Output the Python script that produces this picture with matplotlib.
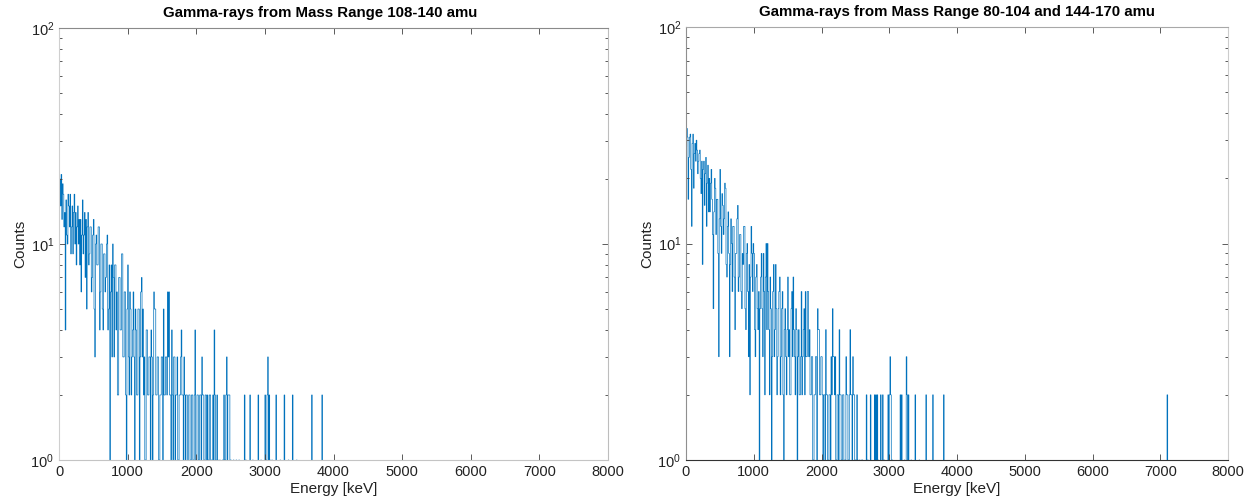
import numpy as np
import matplotlib
matplotlib.use("Agg")
import matplotlib.pyplot as plt
from matplotlib.ticker import LogLocator, NullFormatter, FixedLocator

plt.rcParams['font.family'] = ['Liberation Sans', 'DejaVu Sans']

# ---- data (10 keV bins, 0-8000 keV) ----
bin_width = 10
n_bins = 800

titles = ["Gamma-rays from Mass Range 108-140 amu",
          "Gamma-rays from Mass Range 80-104 and 144-170 amu"]
xlabel = "Energy [keV]"
ylabel = "Counts"
xticks = [0, 1000, 2000, 3000, 4000, 5000, 6000, 7000, 8000]

# counts for bins 0..399 (0-4000 keV), left panel (20 values per 200 keV row)
left_counts_low = [
    18, 20, 15, 21, 13, 19, 17, 12, 14, 4, 16, 11, 10, 17, 15, 12, 17, 9, 12, 15,
    9, 14, 17, 10, 14, 8, 12, 15, 10, 13, 8, 13, 6, 11, 16, 9, 11, 14, 7, 13,
    5, 12, 14, 8, 9, 12, 12, 6, 7, 11, 13, 5, 3, 10, 11, 8, 8, 12, 12, 4,
    6, 10, 10, 5, 4, 9, 9, 6, 7, 10, 11, 4, 5, 8, 1, 6, 8, 3, 10, 7,
    3, 8, 8, 4, 6, 2, 2, 7, 7, 4, 4, 9, 9, 3, 3, 6, 6, 2, 1, 5,
    8, 3, 2, 6, 5, 2, 3, 4, 6, 3, 1, 5, 4, 2, 2, 5, 5, 1, 3, 6,
    7, 3, 5, 2, 3, 1, 1, 4, 4, 2, 2, 3, 3, 1, 4, 3, 1, 2, 6, 5,
    5, 2, 2, 3, 3, 1, 1, 2, 2, 3, 3, 1, 5, 2, 2, 3, 3, 2, 6, 3,
    6, 2, 2, 1, 4, 2, 1, 3, 3, 1, 2, 2, 3, 1, 1, 2, 2, 3, 4, 2,
    2, 1, 3, 2, 1, 2, 2, 0, 0, 2, 2, 1, 1, 2, 2, 1, 1, 2, 4, 1,
    1, 2, 2, 1, 0, 2, 2, 1, 3, 2, 2, 1, 1, 2, 2, 1, 2, 1, 1, 2,
    2, 1, 1, 0, 2, 1, 4, 2, 1, 0, 2, 1, 0, 0, 1, 0, 0, 0, 1, 0,
    2, 1, 1, 2, 3, 1, 2, 2, 2, 1, 1, 0, 0, 0, 1, 0, 0, 0, 1, 0,
    0, 0, 1, 0, 0, 0, 0, 0, 0, 0, 2, 0, 1, 0, 0, 0, 0, 0, 2, 0,
    0, 0, 1, 0, 0, 0, 0, 0, 0, 0, 2, 0, 0, 0, 1, 0, 0, 0, 0, 0,
    2, 0, 1, 2, 3, 0, 2, 1, 0, 0, 1, 0, 0, 0, 0, 0, 2, 0, 0, 0,
    0, 0, 1, 0, 0, 0, 0, 0, 2, 0, 0, 0, 0, 0, 1, 0, 0, 0, 0, 0,
    2, 0, 0, 0, 0, 0, 1, 0, 0, 0, 0, 0, 0, 0, 0, 0, 0, 0, 0, 0,
    0, 0, 0, 0, 0, 0, 0, 0, 2, 0, 0, 0, 0, 0, 0, 0, 0, 0, 0, 0,
    0, 0, 0, 2, 0, 0, 0, 0, 0, 0, 0, 0, 0, 0, 0, 0, 0, 0, 0, 0,
]

# counts for bins 0..399 (0-4000 keV), right panel
right_counts_low = [
    28, 34, 31, 16, 25, 31, 32, 22, 12, 29, 32, 18, 26, 29, 24, 30, 27, 21, 24, 26,
    27, 20, 17, 24, 8, 22, 24, 15, 21, 25, 12, 19, 23, 14, 20, 14, 19, 22, 16, 11,
    5, 14, 20, 18, 11, 16, 16, 9, 3, 13, 22, 12, 9, 17, 15, 11, 13, 19, 18, 8,
    7, 12, 14, 9, 3, 8, 13, 10, 6, 12, 12, 7, 4, 9, 9, 13, 15, 6, 7, 11,
    11, 6, 5, 9, 8, 12, 12, 5, 4, 9, 10, 6, 3, 8, 2, 7, 12, 9, 6, 10,
    9, 4, 3, 7, 8, 5, 4, 6, 1, 5, 7, 9, 5, 3, 9, 6, 2, 7, 10, 4,
    10, 6, 4, 2, 7, 5, 1, 3, 6, 8, 3, 4, 8, 5, 2, 3, 5, 6, 7, 2,
    3, 5, 6, 2, 1, 4, 5, 3, 2, 4, 7, 3, 4, 2, 2, 5, 6, 3, 7, 4,
    3, 2, 5, 4, 1, 3, 4, 2, 2, 3, 6, 2, 3, 4, 5, 2, 6, 3, 3, 6,
    6, 3, 4, 2, 2, 3, 3, 1, 1, 2, 2, 3, 3, 1, 5, 4, 4, 2, 2, 3,
    3, 2, 1, 2, 2, 1, 4, 2, 2, 1, 0, 2, 2, 1, 3, 2, 5, 3, 3, 2,
    3, 1, 1, 2, 2, 1, 4, 2, 2, 1, 1, 2, 2, 1, 0, 1, 3, 2, 2, 1,
    1, 2, 4, 2, 2, 1, 3, 2, 2, 1, 1, 0, 2, 1, 0, 0, 1, 0, 0, 1,
    1, 0, 0, 0, 0, 0, 2, 0, 1, 0, 0, 0, 2, 0, 0, 0, 0, 0, 2, 0,
    2, 0, 2, 1, 0, 0, 0, 2, 0, 0, 2, 0, 1, 0, 0, 0, 0, 0, 2, 0,
    2, 3, 2, 0, 1, 0, 0, 0, 0, 0, 0, 0, 0, 0, 0, 0, 2, 0, 2, 0,
    0, 0, 1, 0, 0, 3, 2, 0, 2, 0, 0, 0, 1, 0, 0, 0, 0, 0, 2, 0,
    0, 0, 0, 0, 1, 0, 0, 0, 0, 0, 0, 0, 0, 0, 2, 0, 0, 0, 0, 0,
    0, 0, 0, 0, 2, 0, 0, 0, 0, 0, 0, 0, 0, 0, 0, 0, 0, 0, 0, 0,
    2, 0, 0, 0, 0, 0, 0, 0, 0, 0, 0, 0, 0, 0, 0, 0, 0, 0, 0, 0,
]

# isolated high-energy counts: (energy keV, count)
left_high_peaks = []
right_high_peaks = [(7100, 2)]


def full_counts(low, peaks):
    c = np.zeros(n_bins)
    c[:len(low)] = low
    for e, v in peaks:
        c[int(e // bin_width)] = v
    return c


edges = np.arange(n_bins + 1) * bin_width
series = [full_counts(left_counts_low, left_high_peaks),
          full_counts(right_counts_low, right_high_peaks)]

# ---- figure ----
W, H = 1250, 503
fig = plt.figure(figsize=(W / 100, H / 100), dpi=100)
boxes = [(59, 28, 608, 460), (686, 27, 1228, 460)]
title_x = [0.476, 0.5]
spine_colors = [
    {'top': '#8a8a8a', 'bottom': '#c4c4c4', 'left': '#cfcfcf', 'right': '#bdbdbd'},
    {'top': '#a8a8a8', 'bottom': '#333333', 'left': '#8f8f8f', 'right': '#cccccc'},
]

for i, (x0, y0, x1, y1) in enumerate(boxes):
    ax = fig.add_axes([x0 / W, 1 - y1 / H, (x1 - x0) / W, (y1 - y0) / H])
    # empty bins sit below the log axis floor
    shown = np.clip(series[i], 0.5, None)
    ax.stairs(shown, edges, color='#0072BD', linewidth=0.5, baseline=None)
    ax.set_yscale('log')
    ax.set_xlim(0, 8000)
    ax.set_ylim(1, 100)
    ax.xaxis.set_major_locator(FixedLocator(xticks))
    ax.yaxis.set_major_locator(LogLocator(base=10, numticks=5))
    ax.yaxis.set_minor_locator(LogLocator(base=10, subs=np.arange(2, 10), numticks=20))
    ax.yaxis.set_minor_formatter(NullFormatter())
    ax.tick_params(which='both', direction='in', top=True, right=True,
                   colors='#404040', labelcolor='#222222', labelsize=10.5)
    ax.tick_params(which='major', length=4, width=0.6)
    ax.tick_params(which='minor', length=2.2, width=0.6)
    for side, col in spine_colors[i].items():
        ax.spines[side].set_color(col)
        ax.spines[side].set_linewidth(0.8)
    ax.set_title(titles[i], fontsize=10.8, fontweight='bold', pad=8, x=title_x[i])
    ax.set_xlabel(xlabel, fontsize=11, color='#222222', labelpad=2)
    ax.set_ylabel(ylabel, fontsize=11, color='#222222', labelpad=2)

fig.savefig("out.png", dpi=100)
